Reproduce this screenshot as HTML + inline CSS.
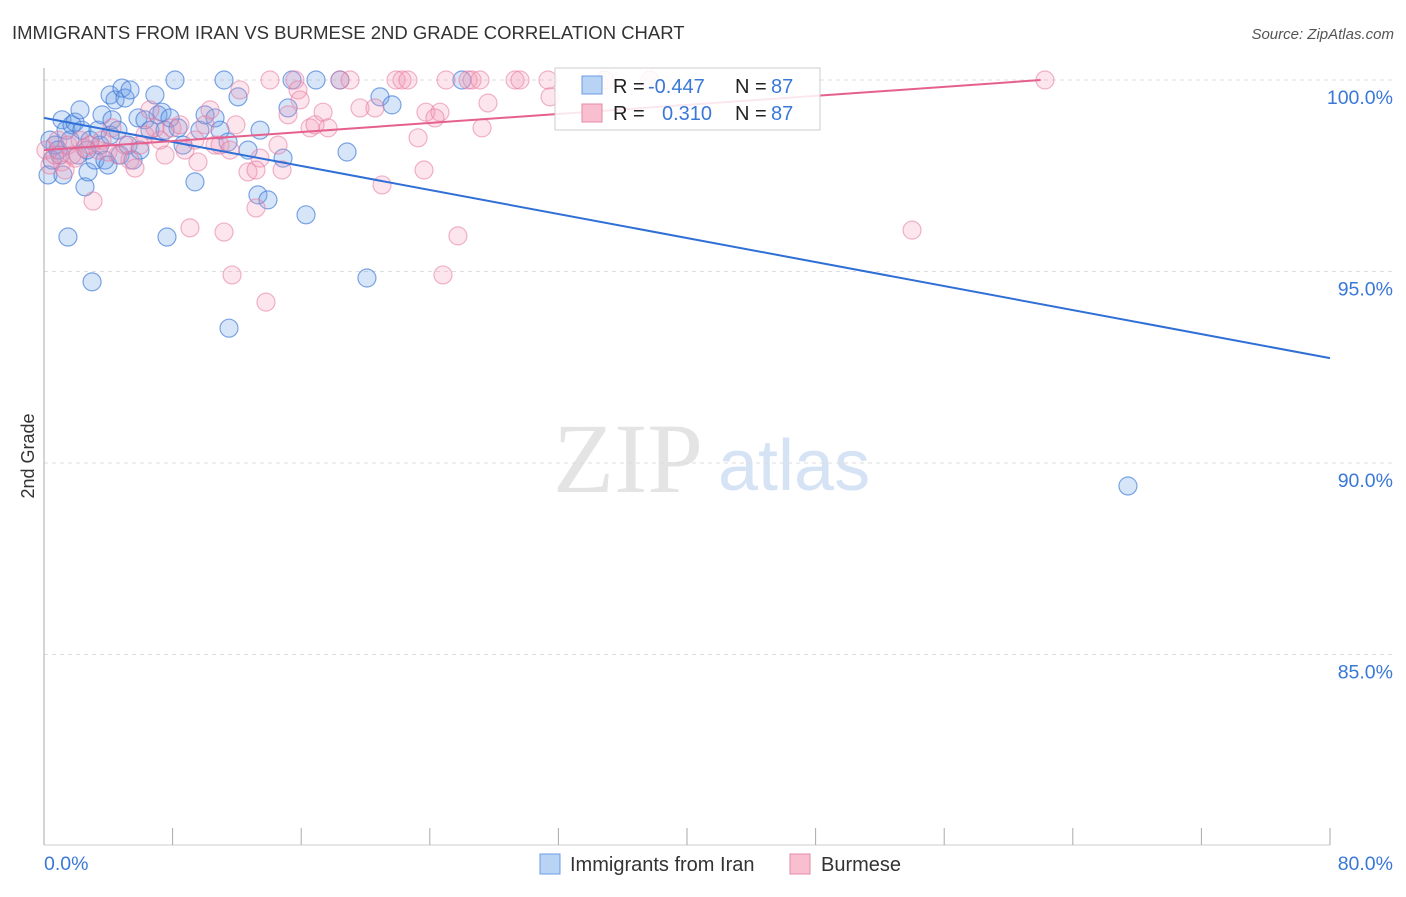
<!DOCTYPE html>
<html><head><meta charset="utf-8"><style>
body{margin:0;background:#fff;font-family:"Liberation Sans",sans-serif;}
</style></head><body>
<svg width="1406" height="892" xmlns="http://www.w3.org/2000/svg" id="chart">
<text x="12" y="39" font-size="18.5" fill="#333">IMMIGRANTS FROM IRAN VS BURMESE 2ND GRADE CORRELATION CHART</text>
<text x="1394" y="39" font-size="15" fill="#555" font-style="italic" text-anchor="end">Source: ZipAtlas.com</text>
<text x="553" y="492" font-size="100" fill="#e4e4e4" font-family="Liberation Serif">ZIP</text>
<text x="718" y="490" font-size="72" fill="#d5e3f5">atlas</text>
<text transform="translate(34,456) rotate(-90)" font-size="18" fill="#333" text-anchor="middle">2nd Grade</text>
<g id="grid"></g><g id="ticks"></g><g id="pts"></g><g id="lines"></g>
<g>
<rect x="555" y="68" width="265" height="62" fill="#fff" fill-opacity="0.85" stroke="#ccc"/>
<rect x="582" y="76" width="20" height="18" fill="#b9d3f5" stroke="#6a9be0"/>
<text x="613" y="93" font-size="20" fill="#222">R =</text>
<text x="648" y="93" font-size="20" fill="#3a78d8">-0.447</text>
<text x="735" y="93" font-size="20" fill="#222">N =</text>
<text x="771" y="93" font-size="20" fill="#3a78d8">87</text>
<rect x="582" y="104" width="20" height="18" fill="#f7bfd0" stroke="#e58aa7"/>
<text x="613" y="120" font-size="20" fill="#222">R =</text>
<text x="662" y="120" font-size="20" fill="#3a78d8">0.310</text>
<text x="735" y="120" font-size="20" fill="#222">N =</text>
<text x="771" y="120" font-size="20" fill="#3a78d8">87</text>
</g>
<g>
<rect x="540" y="854" width="20" height="20" fill="#b9d3f5" stroke="#6a9be0"/>
<text x="570" y="871" font-size="20" fill="#333">Immigrants from Iran</text>
<rect x="790" y="854" width="20" height="20" fill="#f7bfd0" stroke="#e58aa7"/>
<text x="821" y="871" font-size="20" fill="#333">Burmese</text>
</g>
</svg>
<script>
const yTicks=[100,95,90,85];
const yTickLabels=["100.0%","95.0%","90.0%","85.0%"];
const xTickLabels=["0.0%","80.0%"];
const iranX=[.25,.37,.5,.68,.87,1.12,1.18,1.37,1.49,1.62,1.74,1.93,2.12,2.24,2.36,2.55,2.74,2.86,2.99,3.17,3.36,3.48,3.61,3.79,3.98,4.11,4.23,4.42,4.6,4.73,4.85,5.04,5.23,5.35,5.54,5.85,6.28,6.59,6.9,7.09,7.34,7.53,7.65,7.84,8.34,8.65,9.39,9.7,10.02,10.64,10.95,11.2,11.45,11.51,12.07,12.69,13.31,13.44,13.93,14.87,15.18,15.43,16.3,16.92,18.41,18.85,20.09,20.9,21.65,26.0,67.43,1.0,2.67,4.11,5.97,8.15];
const iranY=[97.52,98.43,97.91,98.3,98.17,98.96,97.52,98.69,95.9,98.43,98.83,98.9,98.04,99.22,98.69,97.21,97.6,98.43,94.73,97.91,98.69,98.3,99.09,97.91,97.78,99.61,98.96,99.48,98.69,98.04,99.79,99.53,98.3,99.74,97.91,99.01,98.96,98.69,99.61,99.09,99.16,98.69,95.9,99.01,98.75,98.3,97.34,98.69,99.09,99.01,98.69,100,98.38,93.52,99.56,98.17,97.0,98.69,96.87,97.96,99.27,100,96.48,100,100,98.12,94.83,99.56,99.35,100,89.4,98.04,98.17,98.56,98.17,100];
const burX=[.12,.37,.68,.87,1.12,1.31,1.49,1.74,1.93,2.24,2.55,2.86,3.05,3.36,3.61,3.98,4.23,4.6,5.04,5.35,5.66,5.97,6.28,6.59,6.9,7.22,7.53,7.96,8.46,8.77,9.08,9.39,9.58,10.02,10.33,10.64,10.95,11.2,11.57,11.7,11.94,12.19,12.69,13.19,13.44,13.81,14.06,14.56,14.81,15.18,15.61,15.8,15.93,16.55,16.86,17.36,17.67,18.41,19.04,19.66,20.59,21.03,21.9,22.27,22.64,23.27,23.64,23.76,24.63,24.82,25.01,25.75,26.38,26.63,27.12,27.25,27.62,29.3,29.61,31.35,31.48,34.9,37.7,54.0,62.27,24.32,13.19];
const burY=[98.17,97.78,98.04,98.43,97.86,97.65,98.3,98.04,97.96,98.43,98.22,98.3,96.84,98.17,98.43,98.12,98.75,98.04,98.3,97.91,97.7,98.3,98.56,99.22,98.75,98.43,98.04,98.75,98.83,98.17,96.14,98.43,97.86,98.83,99.22,98.3,98.3,96.03,98.17,94.91,98.83,99.74,97.6,96.66,97.96,94.2,100,98.3,97.65,99.09,100,99.74,99.48,98.75,98.83,99.16,98.75,100,100,99.27,99.27,97.26,100,100,100,98.49,97.65,99.16,99.16,94.91,100,95.93,100,100,100,98.75,99.4,100,100,100,99.56,100,100,96.08,100,99.01,97.65];
const trendIntercept=[99.01,98.17];
const trendSlope=[-0.0784,0.0295];
const trendEndX=[80,62];
const X0=44,X1=1330,Y100=80,PX_PER_PCT=38.3;
const sx=v=>X0+v/80*(X1-X0);
const sy=v=>Y100+(100-v)*PX_PER_PCT;
const NS="http://www.w3.org/2000/svg";
function mk(tag,attrs,parent){const e=document.createElementNS(NS,tag);for(const k in attrs)e.setAttribute(k,attrs[k]);document.getElementById(parent).appendChild(e);return e;}
yTicks.forEach((t,i)=>{
 const g=mk('line',{x1:X0,x2:1394,y1:sy(t),y2:sy(t),stroke:'#ddd','stroke-dasharray':'4,4'},'grid');
 
 
 const l=mk('text',{x:1393,y:sy(t)+24,'font-size':19.5,fill:'#3a78d8','text-anchor':'end'},'grid');
 l.textContent=yTickLabels[i];
 
 
});
const ya=mk('line',{x1:X0,x2:X0,y1:68,y2:845,stroke:'#aaa'},'ticks');


const xa=mk('line',{x1:X0,x2:1330,y1:845,y2:845,stroke:'#ccc'},'ticks');


for(let i=0;i<=10;i++){
 const t=mk('line',{x1:sx(i*8),x2:sx(i*8),y1:828,y2:845,stroke:'#aaa'},'ticks');
 
 
}
[[0,'start',44],[80,'end',1393]].forEach((d,i)=>{
 const l=mk('text',{x:d[2],y:870,'font-size':19.5,fill:'#3a78d8','text-anchor':d[1]},'ticks');
 l.textContent=xTickLabels[i];
 
 
});
function pts(xs,ys,fill,stroke,name){
 xs.forEach((x,i)=>{
  const c=mk('circle',{cx:sx(x),cy:sy(ys[i]),r:9,fill:fill,stroke:stroke,'stroke-width':1.2},'pts');
  
  
 });
}
pts(iranX,iranY,'rgba(110,160,230,0.28)','rgba(60,120,215,0.65)','iran-point');
pts(burX,burY,'rgba(245,150,180,0.25)','rgba(230,120,160,0.55)','burmese-point');
const cols=['#2f6fd6','#e5608e'];
const names=['iran-trend-line','burmese-trend-line'];
trendIntercept.forEach((b,i)=>{
 const ln=mk('line',{x1:sx(0),y1:sy(b),x2:sx(trendEndX[i]),y2:sy(b+trendSlope[i]*trendEndX[i]),stroke:cols[i],'stroke-width':2},'lines');
 
 
});
</script>
</body></html>
